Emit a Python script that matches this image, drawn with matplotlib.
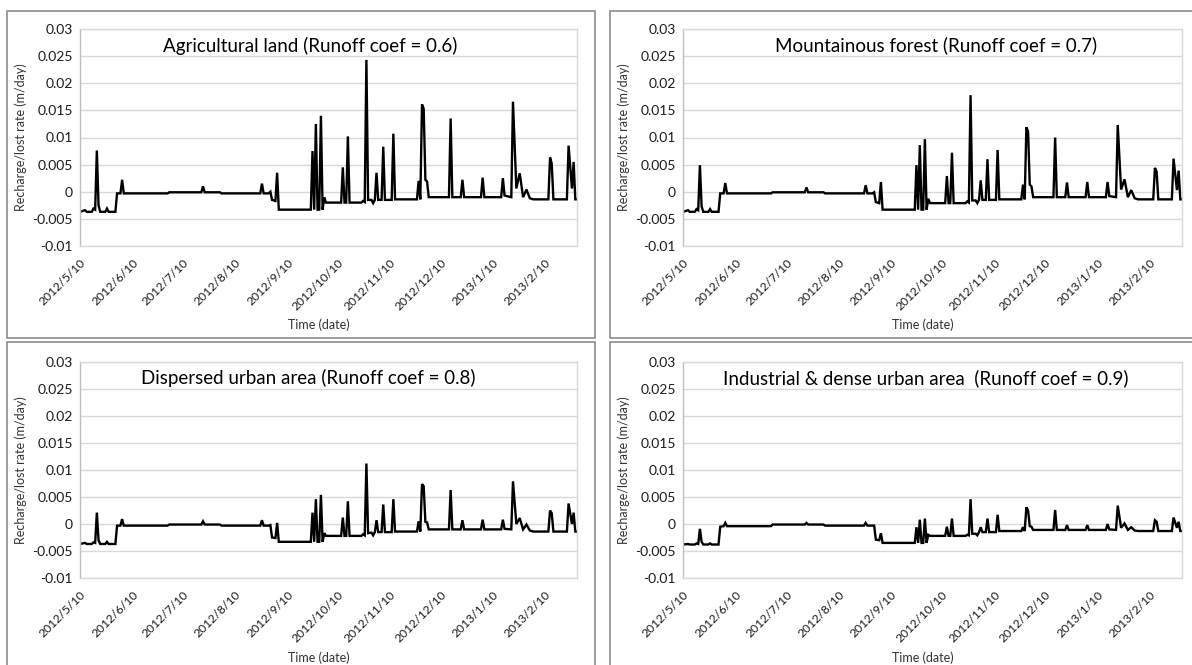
import numpy as np
import matplotlib
matplotlib.use("Agg")
import matplotlib.pyplot as plt
import matplotlib.dates as mdates
from matplotlib.patches import Rectangle
from matplotlib.ticker import FuncFormatter

plt.rcParams['font.family'] = ['Lato', 'DejaVu Sans']

# ---------------- data ----------------
start_date = "2012-05-10"
# day offsets (from 2012/5/10) of the line vertices, shared by all four panels
days = [0, 3, 4, 7, 8, 9, 10, 11, 12, 15, 16, 17, 21, 22, 24, 25, 26, 52, 53, 72,
        73, 74, 83, 84, 107, 108, 109, 112, 113, 114, 116, 117, 118, 137, 138, 139, 140, 141, 142, 143,
        144, 145, 146, 155, 156, 157, 158, 159, 160, 167, 168, 169, 170, 171, 173, 174, 175, 176, 177, 179,
        180, 181, 185, 186, 187, 200, 201, 202, 203, 204, 205, 206, 207, 219, 220, 221, 226, 227, 228, 238,
        239, 240, 250, 251, 252, 256, 257, 259, 261, 263, 265, 267, 269, 278, 279, 280, 281, 289, 290, 292,
        293, 294, 295]

agricultural = [-0.0037, -0.0034, -0.0037, -0.0037, -0.0031, -0.0033, 0.0076, -0.0025, -0.0037, -0.0037,
                -0.0031, -0.0037, -0.0037, -0.0003, -0.0003, 0.0022, -0.0003, -0.0003, -0.0001, -0.0001,
                0.0010, -0.0001, -0.0001, -0.0003, -0.0003, 0.0015, -0.0003, -0.0003, 0.0000, -0.0015,
                -0.0017, 0.0035, -0.0033, -0.0033, 0.0075, -0.0033, 0.0125, -0.0033, -0.0033, 0.0140,
                -0.0033, -0.0010, -0.0020, -0.0020, 0.0045, -0.0020, -0.0020, 0.0102, -0.0020, -0.0020,
                -0.0017, -0.0019, 0.0243, -0.0015, -0.0015, -0.0021, -0.0015, 0.0035, -0.0015, -0.0015,
                0.0083, -0.0015, -0.0015, 0.0107, -0.0014, -0.0014, 0.0020, -0.0014, 0.0161, 0.0153,
                0.0022, 0.0019, -0.0010, -0.0010, 0.0135, -0.0010, -0.0010, 0.0022, -0.0010, -0.0010,
                0.0026, -0.0010, -0.0010, 0.0025, -0.0007, -0.0010, 0.0166, 0.0006, 0.0034, -0.0010,
                0.0004, -0.0012, -0.0014, -0.0014, 0.0063, 0.0052, -0.0014, -0.0014, 0.0085, 0.0006,
                0.0055, -0.0014, -0.0014]

mountainous = [-0.0037, -0.0034, -0.0037, -0.0037, -0.0032, -0.0034, 0.0049, -0.0027, -0.0037, -0.0037,
               -0.0032, -0.0037, -0.0037, -0.0003, -0.0003, 0.0016, -0.0003, -0.0003, -0.0001, -0.0001,
               0.0008, -0.0001, -0.0001, -0.0003, -0.0003, 0.0012, -0.0003, -0.0003, -0.0001, -0.0019,
               -0.0021, 0.0018, -0.0033, -0.0033, 0.0049, -0.0033, 0.0086, -0.0033, -0.0033, 0.0097,
               -0.0033, -0.0013, -0.0021, -0.0021, 0.0029, -0.0021, -0.0021, 0.0072, -0.0021, -0.0021,
               -0.0018, -0.0020, 0.0178, -0.0016, -0.0016, -0.0021, -0.0015, 0.0021, -0.0015, -0.0015,
               0.0060, -0.0015, -0.0015, 0.0077, -0.0014, -0.0014, 0.0013, -0.0014, 0.0119, 0.0111,
               0.0013, 0.0010, -0.0010, -0.0010, 0.0100, -0.0010, -0.0010, 0.0017, -0.0010, -0.0010,
               0.0018, -0.0010, -0.0010, 0.0018, -0.0008, -0.0010, 0.0123, 0.0004, 0.0023, -0.0010,
               0.0003, -0.0012, -0.0014, -0.0014, 0.0044, 0.0037, -0.0014, -0.0014, 0.0061, 0.0003,
               0.0039, -0.0014, -0.0014]

dispersed = [-0.0037, -0.0035, -0.0037, -0.0037, -0.0034, -0.0035, 0.0021, -0.0030, -0.0037, -0.0037,
             -0.0033, -0.0037, -0.0037, -0.0003, -0.0003, 0.0009, -0.0003, -0.0003, -0.0001, -0.0001,
             0.0005, -0.0001, -0.0001, -0.0003, -0.0003, 0.0007, -0.0003, -0.0003, -0.0002, -0.0025,
             -0.0026, 0.0002, -0.0033, -0.0033, 0.0021, -0.0033, 0.0046, -0.0033, -0.0033, 0.0054,
             -0.0033, -0.0017, -0.0022, -0.0022, 0.0012, -0.0022, -0.0022, 0.0042, -0.0022, -0.0022,
             -0.0019, -0.0021, 0.0112, -0.0017, -0.0016, -0.0021, -0.0015, 0.0007, -0.0015, -0.0015,
             0.0036, -0.0015, -0.0015, 0.0046, -0.0014, -0.0014, 0.0005, -0.0014, 0.0074, 0.0070,
             0.0004, 0.0003, -0.0010, -0.0010, 0.0063, -0.0010, -0.0010, 0.0007, -0.0010, -0.0010,
             0.0008, -0.0010, -0.0010, 0.0008, -0.0009, -0.0010, 0.0079, 0.0000, 0.0011, -0.0010,
             -0.0001, -0.0012, -0.0014, -0.0014, 0.0025, 0.0020, -0.0014, -0.0014, 0.0038, 0.0000,
             0.0021, -0.0014, -0.0014]

industrial = [-0.0038, -0.0037, -0.0038, -0.0038, -0.0036, -0.0037, -0.0009, -0.0033, -0.0038, -0.0038,
              -0.0036, -0.0038, -0.0038, -0.0005, -0.0004, 0.0002, -0.0004, -0.0004, -0.0001, -0.0001,
              0.0002, -0.0001, -0.0001, -0.0003, -0.0003, 0.0002, -0.0003, -0.0003, -0.0003, -0.0029,
              -0.0030, -0.0017, -0.0035, -0.0035, -0.0006, -0.0035, 0.0008, -0.0035, -0.0035, 0.0010,
              -0.0035, -0.0020, -0.0022, -0.0022, -0.0005, -0.0022, -0.0022, 0.0010, -0.0022, -0.0022,
              -0.0020, -0.0021, 0.0046, -0.0018, -0.0018, -0.0021, -0.0015, -0.0006, -0.0015, -0.0015,
              0.0010, -0.0015, -0.0015, 0.0017, -0.0013, -0.0013, -0.0006, -0.0013, 0.0031, 0.0025,
              -0.0004, -0.0005, -0.0011, -0.0011, 0.0026, -0.0011, -0.0011, -0.0002, -0.0011, -0.0011,
              -0.0002, -0.0011, -0.0011, 0.0000, -0.0010, -0.0011, 0.0034, -0.0007, 0.0001, -0.0011,
              -0.0006, -0.0012, -0.0013, -0.0013, 0.0007, 0.0004, -0.0013, -0.0013, 0.0012, -0.0007,
              0.0004, -0.0013, -0.0013]

titles = ["Agricultural land (Runoff coef = 0.6)",
          "Mountainous forest (Runoff coef = 0.7)",
          "Dispersed urban area (Runoff coef = 0.8)",
          "Industrial & dense urban area  (Runoff coef = 0.9)"]
series = [agricultural, mountainous, dispersed, industrial]
y_ticks = [-0.01, -0.005, 0, 0.005, 0.01, 0.015, 0.02, 0.025, 0.03]
y_labels = ["-0.01", "-0.005", "0", "0.005", "0.01", "0.015", "0.02", "0.025", "0.03"]
x_label = "Time (date)"
y_label = "Recharge/lost rate (m/day)"

# ---------------- figure ----------------
W, H = 1192, 665
fig = plt.figure(figsize=(W / 100, H / 100), dpi=100)

# panel frames (pixel boxes: x0, y0, x1, y1)
frames = [(7, 11, 595, 338), (610, 11, 1200, 338), (7, 342, 595, 680), (610, 342, 1200, 680)]
for (x0, y0, x1, y1) in frames:
    fig.patches.append(Rectangle((x0 / W, 1 - y1 / H), (x1 - x0) / W, (y1 - y0) / H,
                                 transform=fig.transFigure, fill=False,
                                 edgecolor='#8c8c8c', linewidth=1.2, zorder=0))

# plot areas (pixels: left, top, right, bottom)
areas = [(80, 29, 577, 246), (683, 29, 1182, 246), (80, 362, 577, 578), (683, 362, 1182, 578)]
title_x = [0.167, 0.184, 0.123, 0.080]
title_y = [0.924, 0.924, 0.927, 0.927]
xlabel_y = [-0.362, -0.362, -0.367, -0.367]

base = np.datetime64(start_date)
dates = base + np.array(days).astype('timedelta64[D]')

def fmt_date(x, pos=None):
    d = mdates.num2date(x)
    return f"{d.year}/{d.month}/{d.day}"

for i, (l, t, r, b) in enumerate(areas):
    ax = fig.add_axes([l / W, 1 - b / H, (r - l) / W, (b - t) / H])
    ax.plot(dates, series[i], color='black', linewidth=1.7, solid_joinstyle='miter')
    ax.set_ylim(-0.01, 0.03)
    ax.set_xlim(dates[0], dates[-1])
    ax.set_yticks(y_ticks)
    ax.set_yticklabels(y_labels)
    ax.grid(axis='y', color='#d9d9d9', linewidth=1.0)
    ax.set_axisbelow(True)
    ax.xaxis.set_major_locator(mdates.MonthLocator(bymonthday=10))
    ax.xaxis.set_major_formatter(FuncFormatter(fmt_date))
    for sp in ['top', 'right', 'bottom']:
        ax.spines[sp].set_color('#d9d9d9')
        ax.spines[sp].set_linewidth(1.0)
    ax.spines['left'].set_color('#bfbfbf')
    ax.spines['left'].set_linewidth(1.0)
    ax.tick_params(axis='y', length=0, pad=5, labelsize=10, labelcolor='#1a1a1a')
    ax.tick_params(axis='x', length=0, pad=8, labelsize=8.7, labelcolor='#1a1a1a')
    for lab in ax.get_xticklabels():
        lab.set_rotation(45)
        lab.set_ha('right')
        lab.set_va('top')
        lab.set_rotation_mode('anchor')
    ax.set_ylabel(y_label, fontsize=9, color='#333333', va='center')
    ax.yaxis.set_label_coords(-0.119, 0.5)
    ax.set_xlabel(x_label, fontsize=9, color='#333333', va='center')
    ax.xaxis.set_label_coords(0.48, xlabel_y[i])
    ax.text(title_x[i], title_y[i], titles[i], transform=ax.transAxes,
            fontsize=13.5, color='black', ha='left', va='center')

fig.savefig("out.png", dpi=100)
